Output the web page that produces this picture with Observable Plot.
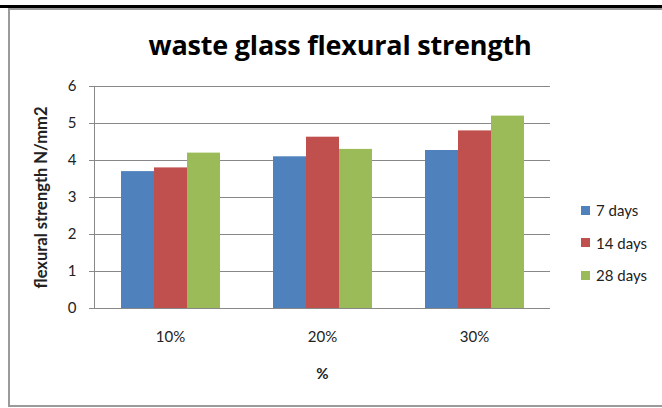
<!DOCTYPE html>
<html>
<head>
<meta charset="utf-8">
<script src="https://cdn.jsdelivr.net/npm/d3@7"></script>
<script src="https://cdn.jsdelivr.net/npm/@observablehq/plot@0.6"></script>
<style>
  html, body { margin: 0; padding: 0; background: #fff; }
  #wrap { position: relative; width: 662px; height: 408px; overflow: hidden; background: #fff; font-family: Lato, "Open Sans", sans-serif; }
  #topbar { position: absolute; left: 0; top: 5px; width: 662px; height: 3px; background: #000; }
  #border { position: absolute; left: 8px; top: 8px; width: 700px; height: 395px; border-left: 2px solid #9a9a9a; border-top: 2px solid #9a9a9a; border-bottom: 2px solid #9a9a9a; }
  #title { position: absolute; left: 0; width: 680px; top: 26px; text-align: center; font-family: "Open Sans", Lato, sans-serif; font-weight: bold; font-size: 27px; letter-spacing: -0.2px; color: #000; white-space: nowrap; }
  #chart { position: absolute; left: 0; top: 0; }
  #legend { position: absolute; left: 581px; top: 194px; font-size: 15px; color: #222; }
  .li { height: 32.5px; display: flex; align-items: center; white-space: nowrap; }
  .sw { width: 9px; height: 9px; margin-right: 6px; }
  [aria-label="y-axis label"], [aria-label="fx-axis label"] { font-weight: bold; }
  [aria-label="y-axis label"] { font-size: 16.5px; }
</style>
</head>
<body>
<div id="wrap">
  <div id="topbar"></div>
  <div id="border"></div>
  <div id="title"></div>
  <div id="chart"></div>
  <div id="legend"></div>
</div>
<script>
const titleText = "waste glass flexural strength";
const yLabel = "flexural strength N/mm2";
const xLabel = "%";
const categories = ["10%", "20%", "30%"];
const series = ["7 days", "14 days", "28 days"];
const days7 = [3.7, 4.1, 4.27];
const days14 = [3.8, 4.63, 4.8];
const days28 = [4.2, 4.3, 5.2];
const yTicks = [0, 1, 2, 3, 4, 5, 6];
const colors = ["#4F81BD", "#C0504D", "#9BBB59"];

const valuesBySeries = [days7, days14, days28];
const data = [];
categories.forEach((c, i) => {
  series.forEach((s, j) => data.push({category: c, series: s, value: valuesBySeries[j][i]}));
});

document.getElementById("title").textContent = titleText;

const chart = Plot.plot({
  width: 560,
  height: 408,
  marginLeft: 93,
  marginRight: 9,
  marginTop: 86,
  marginBottom: 100,
  style: {fontFamily: "Lato, 'Open Sans', sans-serif", fontSize: "15px", color: "#222", background: "transparent", overflow: "visible"},
  fx: {domain: categories, padding: 0},
  x: {domain: series, paddingInner: 0, paddingOuter: 0.77, axis: null},
  y: {domain: [0, 6]},
  color: {domain: series, range: colors},
  marks: [
    Plot.gridY(yTicks.slice(1), {stroke: "#888", strokeOpacity: 1}),
    Plot.barY(data, {fx: "category", x: "series", y: "value", fill: "series", inset: 0}),
    Plot.ruleY([0], {stroke: "#888"}),
    Plot.frame({anchor: "left", facetAnchor: "left", stroke: "#888"}),
    Plot.axisY(yTicks, {tickSize: 5, tickPadding: 13, stroke: "#888", label: yLabel, labelAnchor: "center", labelOffset: 59, labelArrow: false}),
    Plot.axisFx({anchor: "bottom", tickSize: 0, tickPadding: 23, label: xLabel, labelAnchor: "center", labelOffset: 70, labelArrow: false})
  ]
});
document.getElementById("chart").appendChild(chart);

const legend = document.getElementById("legend");
series.forEach((s, i) => {
  const row = document.createElement("div");
  row.className = "li";
  const sw = document.createElement("span");
  sw.className = "sw";
  sw.style.background = colors[i];
  const t = document.createElement("span");
  t.textContent = s;
  row.appendChild(sw);
  row.appendChild(t);
  legend.appendChild(row);
});
</script>
</body>
</html>
